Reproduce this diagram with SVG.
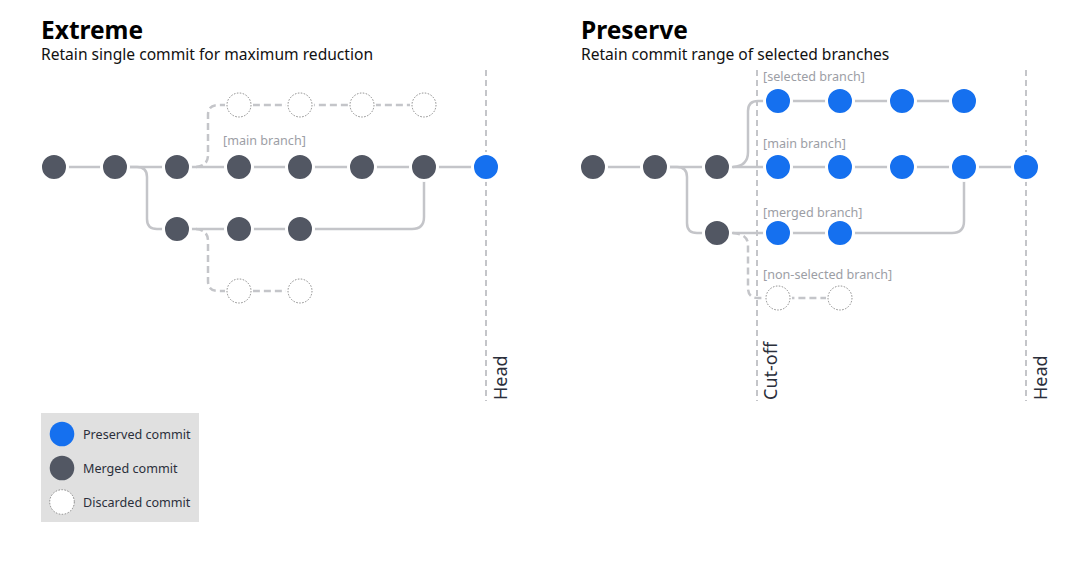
<svg xmlns="http://www.w3.org/2000/svg" width="1080" height="574" viewBox="0 0 1080 574">
<style>
text{font-family:"Noto Sans","Open Sans","Liberation Sans",sans-serif}
.title{font-size:24.5px;font-weight:bold;fill:#000}
.sub{font-size:15.6px;fill:#111}
.lbl{font-size:12.6px;fill:#9c9ea5}
.axis{font-size:18px;fill:#2b2f3b}
.leg{font-size:12.6px;fill:#2b2f3b}
.conn{fill:none;stroke:#c4c5c9;stroke-width:2.5}
.dash{fill:none;stroke:#c4c5c9;stroke-width:2.5;stroke-dasharray:7 4}
.vline{fill:none;stroke:#c4c5c9;stroke-width:2;stroke-dasharray:6 4}
.blue{fill:#1570ef;stroke:#fff;stroke-width:3}
.dark{fill:#525763;stroke:#fff;stroke-width:3}
.gap{fill:#fff}
.disc{fill:#fff;stroke:#888;stroke-width:1;stroke-dasharray:1.5 1.5}
</style>
<rect width="1080" height="574" fill="#fff"/>
<text class="title" x="41" y="39">Extreme</text>
<text class="sub" x="41" y="60">Retain single commit for maximum reduction</text>
<text class="title" x="581" y="39">Preserve</text>
<text class="sub" x="581" y="60">Retain commit range of selected branches</text>

<g id="connectors">
<path class="conn" d="M54 167 H486"/>
<path class="conn" d="M115 167 H137 Q147 167 147 177 V219 Q147 229 157 229 H412 Q424 229 424 217 V167"/>
<path class="dash" d="M196 167 Q208 166 208 155 V115 Q208 105 218 105 H424"/>
<path class="dash" d="M196 229 Q208 230 208 241 V281 Q208 291 218 291 H300"/>
<path class="conn" d="M593 167 H1026"/>
<path class="conn" d="M733 167 Q748 166 748 152 V111 Q748 101 758 101 H964"/>
<path class="conn" d="M655 167 H677 Q687 167 687 177 V223 Q687 233 697 233 H952 Q964 233 964 221 V167"/>
<path class="dash" d="M733 233 Q748 234 748 245 V288 Q748 298 758 298 H840"/>
<path class="vline" d="M486 70 V401"/>
<path class="vline" d="M757 70 V401"/>
<path class="vline" d="M1026 70 V401"/>
</g>

<g id="ext-labels">
<text class="lbl" x="223" y="145">[main branch]</text>
<text class="axis" transform="translate(507,400) rotate(-90)">Head</text>
</g>
<g id="pre-labels">
<text class="lbl" x="763" y="81">[selected branch]</text>
<text class="lbl" x="763" y="148">[main branch]</text>
<text class="lbl" x="763" y="217">[merged branch]</text>
<text class="lbl" x="763" y="279">[non-selected branch]</text>
<text class="axis" transform="translate(777,400) rotate(-90)">Cut-off</text>
<text class="axis" transform="translate(1047,400) rotate(-90)">Head</text>
</g>

<!-- Extreme nodes -->
<g id="e1"><circle class="dark" cx="54" cy="167" r="13.5"/></g>
<g id="e2"><circle class="dark" cx="115" cy="167" r="13.5"/></g>
<g id="e3"><circle class="dark" cx="177" cy="167" r="13.5"/></g>
<g id="e4"><circle class="dark" cx="239" cy="167" r="13.5"/></g>
<g id="e5"><circle class="dark" cx="300" cy="167" r="13.5"/></g>
<g id="e6"><circle class="dark" cx="362" cy="167" r="13.5"/></g>
<g id="e7"><circle class="dark" cx="424" cy="167" r="13.5"/></g>
<g id="e8"><circle class="blue" cx="486" cy="167" r="13.5"/></g>
<g id="e9"><circle class="dark" cx="177" cy="229" r="13.5"/></g>
<g id="e10"><circle class="dark" cx="239" cy="229" r="13.5"/></g>
<g id="e11"><circle class="dark" cx="300" cy="229" r="13.5"/></g>
<g id="ed1"><circle class="gap" cx="239" cy="105" r="14"/><circle class="disc" cx="239" cy="105" r="12"/></g>
<g id="ed2"><circle class="gap" cx="300" cy="105" r="14"/><circle class="disc" cx="300" cy="105" r="12"/></g>
<g id="ed3"><circle class="gap" cx="362" cy="105" r="14"/><circle class="disc" cx="362" cy="105" r="12"/></g>
<g id="ed4"><circle class="gap" cx="424" cy="105" r="14"/><circle class="disc" cx="424" cy="105" r="12"/></g>
<g id="ed5"><circle class="gap" cx="239" cy="291" r="14"/><circle class="disc" cx="239" cy="291" r="12"/></g>
<g id="ed6"><circle class="gap" cx="300" cy="291" r="14"/><circle class="disc" cx="300" cy="291" r="12"/></g>

<!-- Preserve nodes -->
<g id="p1"><circle class="dark" cx="593" cy="167" r="13.5"/></g>
<g id="p2"><circle class="dark" cx="655" cy="167" r="13.5"/></g>
<g id="p3"><circle class="dark" cx="717" cy="167" r="13.5"/></g>
<g id="p4"><circle class="blue" cx="778" cy="167" r="13.5"/></g>
<g id="p5"><circle class="blue" cx="840" cy="167" r="13.5"/></g>
<g id="p6"><circle class="blue" cx="902" cy="167" r="13.5"/></g>
<g id="p7"><circle class="blue" cx="964" cy="167" r="13.5"/></g>
<g id="p8"><circle class="blue" cx="1026" cy="167" r="13.5"/></g>
<g id="ps1"><circle class="blue" cx="778" cy="101" r="13.5"/></g>
<g id="ps2"><circle class="blue" cx="840" cy="101" r="13.5"/></g>
<g id="ps3"><circle class="blue" cx="902" cy="101" r="13.5"/></g>
<g id="ps4"><circle class="blue" cx="964" cy="101" r="13.5"/></g>
<g id="pm1"><circle class="dark" cx="717" cy="233" r="13.5"/></g>
<g id="pm2"><circle class="blue" cx="778" cy="233" r="13.5"/></g>
<g id="pm3"><circle class="blue" cx="840" cy="233" r="13.5"/></g>
<g id="pd1"><circle class="gap" cx="778" cy="298" r="14"/><circle class="disc" cx="778" cy="298" r="12"/></g>
<g id="pd2"><circle class="gap" cx="840" cy="298" r="14"/><circle class="disc" cx="840" cy="298" r="12"/></g>

<!-- Legend -->
<g id="legend">
<rect x="41" y="413" width="158" height="109" fill="#e0e0e0"/>
<circle cx="62" cy="434" r="12.3" fill="#1570ef"/>
<text class="leg" x="83" y="439">Preserved commit</text>
<circle cx="62" cy="468" r="12.3" fill="#525763"/>
<text class="leg" x="83" y="473">Merged commit</text>
<circle cx="62" cy="502" r="12.3" fill="#fff" stroke="#888" stroke-width="1" stroke-dasharray="1.5 1.5"/>
<text class="leg" x="83" y="507">Discarded commit</text>
</g>
</svg>
